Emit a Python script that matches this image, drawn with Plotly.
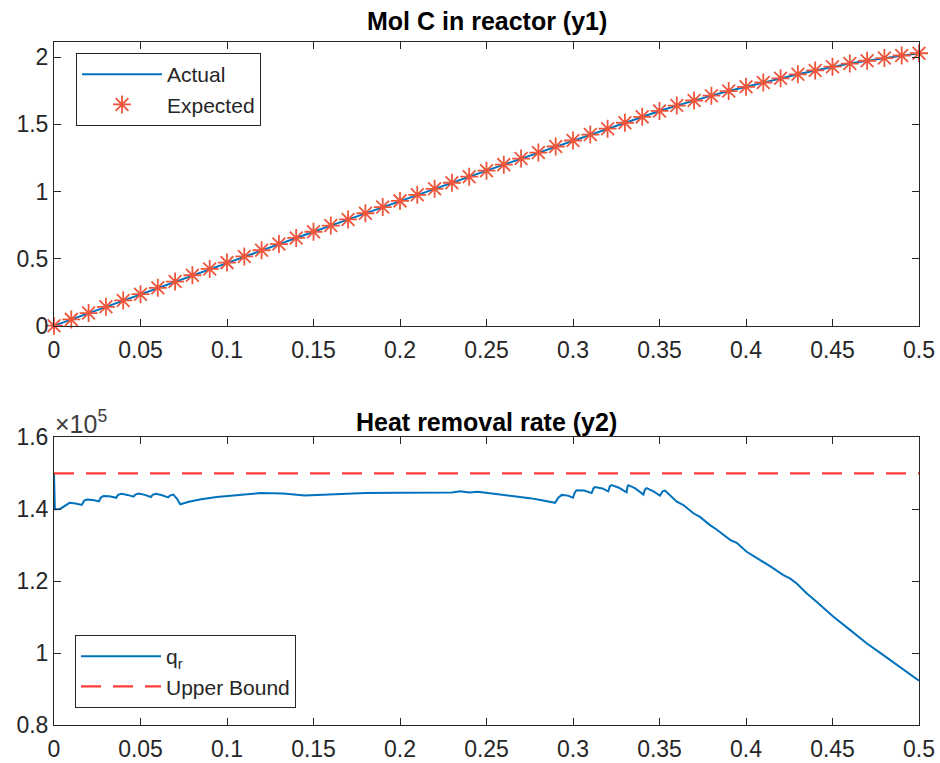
import plotly.graph_objects as go

# ---------------- data ----------------
t1 = [0.00, 0.01, 0.02, 0.03, 0.04, 0.05, 0.06, 0.07, 0.08, 0.09,
      0.10, 0.11, 0.12, 0.13, 0.14, 0.15, 0.16, 0.17, 0.18, 0.19,
      0.20, 0.21, 0.22, 0.23, 0.24, 0.25, 0.26, 0.27, 0.28, 0.29,
      0.30, 0.31, 0.32, 0.33, 0.34, 0.35, 0.36, 0.37, 0.38, 0.39,
      0.40, 0.41, 0.42, 0.43, 0.44, 0.45, 0.46, 0.47, 0.48, 0.49, 0.50]
y1_actual = [0.000, 0.047, 0.094, 0.141, 0.188, 0.235, 0.282, 0.329, 0.376, 0.423,
             0.470, 0.516, 0.562, 0.608, 0.654, 0.700, 0.746, 0.792, 0.838, 0.884,
             0.930, 0.975, 1.020, 1.065, 1.110, 1.155, 1.200, 1.245, 1.290, 1.335,
             1.380, 1.424, 1.468, 1.512, 1.556, 1.600, 1.640, 1.678, 1.714, 1.748,
             1.780, 1.812, 1.843, 1.873, 1.902, 1.930, 1.953, 1.974, 1.994, 2.013, 2.030]
y1_expected = list(y1_actual)

# heat removal rate (units of 1e5)
t2 = [0.000, 0.0005, 0.0035, 0.0075, 0.009, 0.0125, 0.016, 0.0175, 0.019, 0.0225,
      0.026, 0.027, 0.0285, 0.032, 0.036, 0.037, 0.039, 0.0425, 0.046, 0.047,
      0.049, 0.0525, 0.056, 0.057, 0.059, 0.0625, 0.066, 0.067, 0.069, 0.071,
      0.073, 0.078, 0.085, 0.094, 0.1075, 0.119, 0.1325, 0.140, 0.145, 0.152,
      0.160, 0.180, 0.200, 0.220, 0.225, 0.230, 0.235, 0.240, 0.245, 0.250,
      0.255, 0.262, 0.268, 0.275, 0.282, 0.2896, 0.2915, 0.2935, 0.297, 0.300,
      0.301, 0.302, 0.3065, 0.3108, 0.3118, 0.3127, 0.317, 0.3204, 0.3213, 0.3223,
      0.3265, 0.331, 0.3315, 0.332, 0.336, 0.3407, 0.3416, 0.3426, 0.3465, 0.3503,
      0.3518, 0.3532, 0.360, 0.3638, 0.3696, 0.3734, 0.3792, 0.383, 0.3908, 0.3946,
      0.4004, 0.410, 0.4139, 0.4216, 0.4254, 0.4293, 0.435, 0.4408, 0.4504, 0.4601,
      0.4697, 0.4794, 0.489, 0.500]
qr = [1.500, 1.400, 1.401, 1.415, 1.418, 1.416, 1.412, 1.424, 1.427, 1.426,
      1.422, 1.432, 1.437, 1.436, 1.432, 1.440, 1.443, 1.440, 1.435, 1.441,
      1.444, 1.440, 1.434, 1.440, 1.443, 1.439, 1.433, 1.438, 1.441, 1.430,
      1.414, 1.421, 1.428, 1.434, 1.440, 1.445, 1.444, 1.441, 1.438, 1.440,
      1.442, 1.445, 1.446, 1.446, 1.448, 1.447, 1.450, 1.447, 1.449, 1.446,
      1.443, 1.440, 1.436, 1.431, 1.425, 1.418, 1.432, 1.440, 1.438, 1.432,
      1.446, 1.453, 1.452, 1.445, 1.458, 1.462, 1.458, 1.450, 1.464, 1.467,
      1.460, 1.447, 1.463, 1.467, 1.458, 1.441, 1.455, 1.459, 1.450, 1.438,
      1.450, 1.452, 1.421, 1.412, 1.389, 1.379, 1.356, 1.344, 1.315, 1.307,
      1.282, 1.254, 1.242, 1.217, 1.208, 1.194, 1.167, 1.143, 1.102, 1.065,
      1.028, 0.995, 0.963, 0.924]
upper_t = [0.0, 0.5]
upper_bound = [1.5, 1.5]

x_ticks = [0, 0.05, 0.1, 0.15, 0.2, 0.25, 0.3, 0.35, 0.4, 0.45, 0.5]
x_labels = ["0", "0.05", "0.1", "0.15", "0.2", "0.25", "0.3", "0.35", "0.4", "0.45", "0.5"]
y1_ticks = [0, 0.5, 1, 1.5, 2]
y1_labels = ["0", "0.5", "1", "1.5", "2"]
y2_ticks = [0.8, 1.0, 1.2, 1.4, 1.6]
y2_labels = ["0.8", "1", "1.2", "1.4", "1.6"]

# ---------------- figure ----------------
W, H = 940, 763
AX = "#262626"
BLUE = "#0072BD"
ORANGE = "#D95319"
FONT = "Liberation Sans, Arial, sans-serif"

fig = go.Figure()
fig.add_trace(go.Scatter(x=t1, y=y1_actual, mode="lines", name="Actual",
                         line=dict(color=BLUE, width=2), xaxis="x", yaxis="y",
                         legend="legend"))
fig.add_trace(go.Scatter(x=t1, y=y1_expected, mode="markers", name="Expected",
                         marker=dict(symbol="asterisk-open", size=15,
                                     line=dict(color=ORANGE, width=1.8)),
                         cliponaxis=False, xaxis="x", yaxis="y", legend="legend"))
fig.add_trace(go.Scatter(x=t2, y=qr, mode="lines", name="q<sub>r</sub>",
                         line=dict(color=BLUE, width=2), xaxis="x2", yaxis="y2",
                         legend="legend2"))
fig.add_trace(go.Scatter(x=upper_t, y=upper_bound, mode="lines", name="Upper Bound",
                         line=dict(color="rgb(255,60,60)", width=2.2, dash="20px,12px"),
                         xaxis="x2", yaxis="y2", legend="legend2"))

xdom = [54 / W, 919 / W]
ydom1 = [1 - 325.7 / H, 1 - 41.7 / H]
ydom2 = [1 - 725.3 / H, 1 - 437.3 / H]

common_axis = dict(showline=True, linecolor=AX, linewidth=1, mirror="ticks",
                   ticks="inside", ticklen=7, tickcolor=AX, tickwidth=1,
                   showgrid=False, zeroline=False, automargin=False,
                   tickfont=dict(family=FONT, size=23, color=AX))

fig.update_layout(
    width=W, height=H, autosize=False,
    margin=dict(l=0, r=0, t=0, b=0, pad=0),
    paper_bgcolor="white", plot_bgcolor="white",
    font=dict(family=FONT, color=AX),
    xaxis=dict(domain=xdom, range=[0, 0.5], anchor="y", tickvals=x_ticks,
               ticktext=x_labels, ticklabelstandoff=4, **common_axis),
    yaxis=dict(domain=ydom1, range=[0, 2.116], anchor="x", tickvals=y1_ticks,
               ticktext=y1_labels, **common_axis),
    xaxis2=dict(domain=xdom, range=[0, 0.5], anchor="y2", tickvals=x_ticks,
                ticktext=x_labels, ticklabelstandoff=3, **common_axis),
    yaxis2=dict(domain=ydom2, range=[0.8, 1.6], anchor="x2", tickvals=y2_ticks,
                ticktext=y2_labels, **common_axis),
    legend=dict(x=76 / W, y=1 - 53 / H, xanchor="left", yanchor="top",
                bgcolor="white", bordercolor=AX, borderwidth=1,
                font=dict(family=FONT, size=21, color=AX), itemwidth=80,
                tracegroupgap=0),
    legend2=dict(x=75 / W, y=1 - 635 / H, xanchor="left", yanchor="top",
                 bgcolor="white", bordercolor=AX, borderwidth=1,
                 font=dict(family=FONT, size=21, color=AX), itemwidth=80,
                 tracegroupgap=0),
    showlegend=True,
    annotations=[
        dict(text="<b>Mol C in reactor (y1)</b>", xref="paper", yref="paper",
             x=(xdom[0] + xdom[1]) / 2, y=1 - 21 / H, xanchor="center", yanchor="middle",
             showarrow=False, font=dict(family=FONT, size=25, color="black")),
        dict(text="<b>Heat removal rate (y2)</b>", xref="paper", yref="paper",
             x=(xdom[0] + xdom[1]) / 2, y=1 - 422 / H, xanchor="center", yanchor="middle",
             showarrow=False, font=dict(family=FONT, size=25, color="black")),
        dict(text="×10<sup>5</sup>", xref="paper", yref="paper",
             x=53 / W, y=1 - 436 / H, xanchor="left", yanchor="bottom", yshift=-4,
             showarrow=False, font=dict(family=FONT, size=25, color="#404040")),
    ],
)

fig.write_html(
    "out.html",
    config={"displayModeBar": False},
    post_script="document.body.style.margin='0';document.body.style.overflow='hidden';",
)
